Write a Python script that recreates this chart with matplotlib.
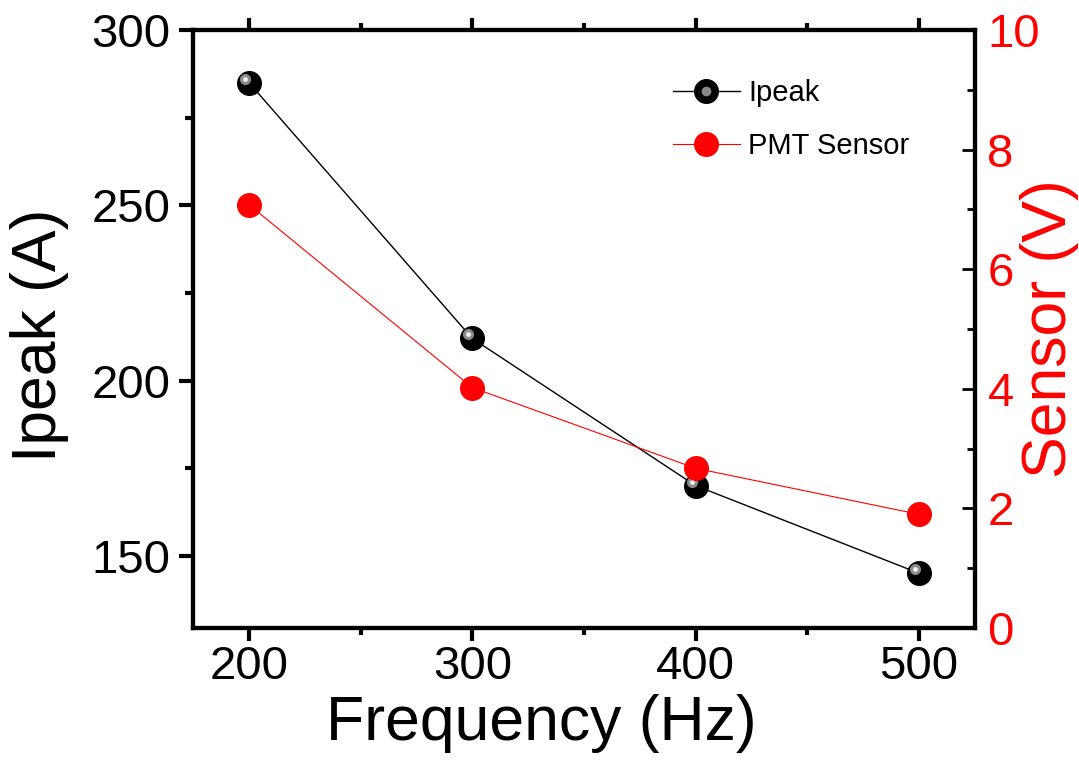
import matplotlib
matplotlib.use("Agg")
import matplotlib.pyplot as plt
import matplotlib.transforms as mtransforms
from matplotlib.legend_handler import HandlerTuple
from matplotlib.ticker import MultipleLocator

plt.rcParams['font.family'] = ['Liberation Sans', 'DejaVu Sans']

freq = [200, 300, 400, 500]
ipeak = [285, 212, 170, 145]
sensor = [7.08, 4.02, 2.67, 1.90]

fig = plt.figure(figsize=(10.79, 7.65), dpi=100)
ax = fig.add_axes([0.1789, 0.1791, 0.7247, 0.7817])
ax2 = ax.twinx()

# black "sphere" markers with a small highlight
l1, = ax.plot(freq, ipeak, '-', color='black', lw=1.0, marker='o', ms=17,
              mfc='black', mec='black', zorder=3)
hl = mtransforms.offset_copy(ax.transData, fig=fig, x=-4, y=4, units='dots')
ax.plot(freq, ipeak, 'o', ms=8, mfc='#8a8a8a', mec='none', transform=hl, zorder=4)
ax.plot(freq, ipeak, 'o', ms=3.5, mfc='#f0f0f0', mec='none', transform=hl, zorder=5)

l2, = ax2.plot(freq, sensor, '-', color='red', lw=0.8, marker='o', ms=17,
               mfc='red', mec='red', zorder=3)

ax.set_xlim(175, 525)
ax.set_ylim(129.4, 300)
ax2.set_ylim(0, 10)

ax.xaxis.set_major_locator(MultipleLocator(100))
ax.xaxis.set_minor_locator(MultipleLocator(50))
ax.yaxis.set_major_locator(MultipleLocator(50))
ax.yaxis.set_minor_locator(MultipleLocator(25))
ax2.yaxis.set_major_locator(MultipleLocator(2))
ax2.yaxis.set_minor_locator(MultipleLocator(1))

for a in (ax, ax2):
    for s in a.spines.values():
        s.set_linewidth(3)

ax.tick_params(axis='x', which='both', direction='out', top=True, width=3,
               labelsize=34, pad=3)
ax.tick_params(axis='x', which='major', length=9)
ax.tick_params(axis='x', which='minor', length=5)
ax.tick_params(axis='y', which='both', direction='out', width=3, labelsize=34, pad=6)
ax.tick_params(axis='y', which='major', length=10)
ax.tick_params(axis='y', which='minor', length=6)
ax2.tick_params(axis='y', which='both', direction='in', width=2,
                labelsize=34, labelcolor='red', pad=9)
ax2.tick_params(axis='y', which='major', length=9.5)
ax2.tick_params(axis='y', which='minor', length=6)

ax.set_xlabel('Frequency (Hz)', fontsize=45)
ax.set_ylabel('Ipeak (A)', fontsize=45)
ax2.set_ylabel('Sensor (V)', fontsize=45, color='red')
ax.xaxis.set_label_coords(0.445, -0.11)
ax.yaxis.set_label_coords(-0.158, 0.49)
ax2.yaxis.set_label_coords(1.058, 0.50)

hl_proxy, = ax.plot([], [], 'o', ms=7, mfc='#8a8a8a', mec='none')
leg = ax2.legend([(l1, hl_proxy), l2], ['Ipeak', 'PMT Sensor'],
                 handler_map={tuple: HandlerTuple(ndivide=1)},
                 loc='upper left', bbox_to_anchor=(0.58, 0.962), frameon=False,
                 fontsize=21, handlelength=2.3, handletextpad=0.28, labelspacing=0.85)

fig.savefig('out.png', dpi=100)
